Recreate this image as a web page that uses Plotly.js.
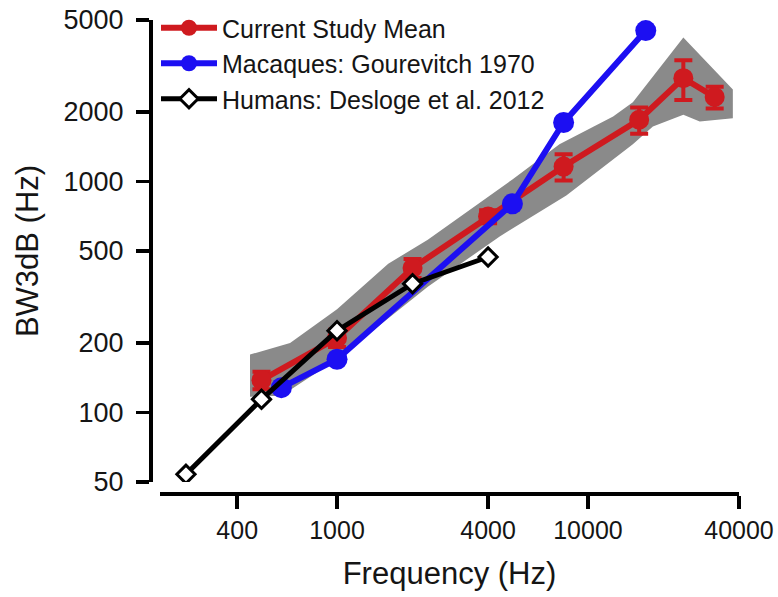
<!DOCTYPE html>
<html>
<head>
<meta charset="utf-8">
<script src="https://cdn.plot.ly/plotly-3.0.1.min.js"></script>
<style>html,body{margin:0;padding:0;background:#fff;}#chart{width:778px;height:597px;}</style>
</head>
<body>
<div id="chart"></div>
<script>
// Current study (mean ± error)
const redFreq = [500, 1000, 2000, 4000, 8000, 16000, 24000, 32000];
const redBW   = [138, 210, 422, 705, 1160, 1850, 2800, 2320];
const redErr  = [12, 18, 40, 45, 150, 240, 550, 250];

// Macaques: Gourevitch 1970
const blueFreq = [600, 1000, 5000, 8000, 17000];
const blueBW   = [128, 170, 800, 1800, 4500];

// Humans: Desloge et al. 2012
const humanFreq = [250, 500, 1000, 2000, 4000];
const humanBW   = [54, 114, 226, 361, 471];

// Shaded range around current study (polygon: upper edge then lower edge)
const bandFreq = [450, 650, 1000, 1600, 2300, 3700, 5000, 7700, 12600, 15100, 24000, 37800,
                  37800, 27900, 24000, 18150, 15100, 8200, 4450, 2300, 1000, 600, 450];
const bandBW   = [178, 200, 280, 440, 560, 806, 1020, 1450, 1910, 2200, 4200, 2500,
                  1880, 1820, 1945, 1730, 1450, 870, 578, 350, 170, 118, 117];

const xTickVals = [400, 1000, 4000, 10000, 40000];
const xTickText = ['400', '1000', '4000', '10000', '40000'];
const yTickVals = [50, 100, 200, 500, 1000, 2000, 5000];
const yTickText = ['50', '100', '200', '500', '1000', '2000', '5000'];

const RED = '#cf1a1f', BLUE = '#1c0ff2', GRAY = '#8a8a8a';
const FONT = 'Liberation Sans, Arial, Helvetica, sans-serif';
const TXT = '#151515';

const traces = [
  {
    x: bandFreq, y: bandBW, type: 'scatter', mode: 'lines',
    fill: 'toself', fillcolor: GRAY, line: {width: 0, color: GRAY},
    showlegend: false, hoverinfo: 'skip'
  },
  {
    x: redFreq, y: redBW, type: 'scatter', mode: 'lines+markers',
    name: 'Current Study Mean',
    line: {color: RED, width: 6},
    marker: {color: RED, size: 20},
    error_y: {type: 'data', array: redErr, visible: true, color: RED, thickness: 4, width: 9}
  },
  {
    x: blueFreq, y: blueBW, type: 'scatter', mode: 'lines+markers',
    name: 'Macaques: Gourevitch 1970',
    line: {color: BLUE, width: 6},
    marker: {color: BLUE, size: 21}
  },
  {
    x: humanFreq, y: humanBW, type: 'scatter', mode: 'lines+markers',
    name: 'Humans: Desloge et al. 2012',
    line: {color: '#000', width: 5},
    marker: {symbol: 'diamond', color: '#fff', size: 14, line: {color: '#000', width: 3}}
  }
];

const W = 778, H = 597;
const mL = 150, mR = 39, mT = 0, mB = 104;
const plotW = W - mL - mR, plotH = H - mT - mB;

const layout = {
  width: W, height: H,
  margin: {l: mL, r: mR, t: mT, b: mB, pad: 0},
  paper_bgcolor: '#fff', plot_bgcolor: '#fff',
  font: {family: FONT, color: TXT},
  showlegend: true,
  legend: {
    x: 6 / plotW, y: 1 - 5 / plotH, xanchor: 'left', yanchor: 'top',
    bgcolor: 'rgba(0,0,0,0)', font: {size: 25, family: FONT, color: TXT},
    itemwidth: 56, tracegroupgap: 0
  },
  xaxis: {
    type: 'log',
    range: [Math.log10(197), Math.log10(40000)],
    domain: [10 / plotW, 1],
    anchor: 'free', position: 0,
    showline: true, linecolor: '#000', linewidth: 3.5,
    ticks: 'outside', ticklen: 13, tickwidth: 3.5, tickcolor: '#000',
    tickvals: xTickVals, ticktext: xTickText,
    tickfont: {size: 25, family: FONT, color: TXT},
    showgrid: false, zeroline: false,
    title: {text: 'Frequency (Hz)', font: {size: 31, family: FONT, color: TXT}, standoff: 20}
  },
  yaxis: {
    type: 'log',
    range: [Math.log10(50), Math.log10(5000)],
    domain: [11 / plotH, 473 / plotH],
    anchor: 'free', position: 0,
    showline: true, linecolor: '#000', linewidth: 3.5,
    ticks: 'outside', ticklen: 13, tickwidth: 3.5, tickcolor: '#000',
    tickvals: yTickVals, ticktext: yTickText,
    tickfont: {size: 27, family: FONT, color: TXT},
    ticklabelstandoff: 7,
    showgrid: false, zeroline: false,
    title: {text: 'BW3dB (Hz)', font: {size: 31, family: FONT, color: TXT}, standoff: 14}
  }
};

Plotly.newPlot('chart', traces, layout, {displayModeBar: false, staticPlot: true});
</script>
</body>
</html>
